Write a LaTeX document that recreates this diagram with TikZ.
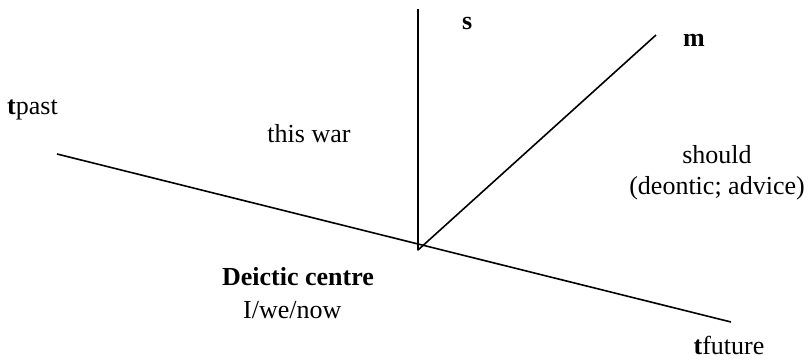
\documentclass[tikz,border=0pt]{standalone}
\usepackage{fontspec}
\setmainfont{Liberation Serif}
\begin{document}
\begin{tikzpicture}[x=1pt,y=-1pt,
  axis/.style={line width=1.6pt, black, line join=round},
  lbl/.style={inner sep=0pt, font=\fontsize{26}{30}\selectfont, align=center, text depth=0pt}]
\useasboundingbox (0,0) rectangle (809,360);
\coordinate (o) at (418,250);
\coordinate (tp) at (57,154);
\coordinate (tf) at (731,322);
\coordinate (st) at (418,9);
\coordinate (mt) at (656,35);
\draw[axis] (tp) -- (tf);
\draw[axis] (st) -- (o) -- (mt);
\node[lbl, anchor=base west] (tpast) at (7,114) {\textbf{t}past};
\node[lbl, anchor=base west] (s) at (462,29) {\textbf{s}};
\node[lbl, anchor=base west] (m) at (683,46) {\textbf{m}};
\node[lbl, anchor=base] (war) at (309,142) {this war};
\node[lbl, anchor=base] (should) at (717,163) {should};
\node[lbl, anchor=base] (deon) at (717,194) {(deontic; advice)};
\node[lbl, anchor=base] (dc) at (298,285) {\textbf{Deictic centre}};
\node[lbl, anchor=base west] (iwn) at (243,318) {I/we/now};
\node[lbl, anchor=base] (tfut) at (729,354) {\textbf{t}future};
\end{tikzpicture}
\end{document}
